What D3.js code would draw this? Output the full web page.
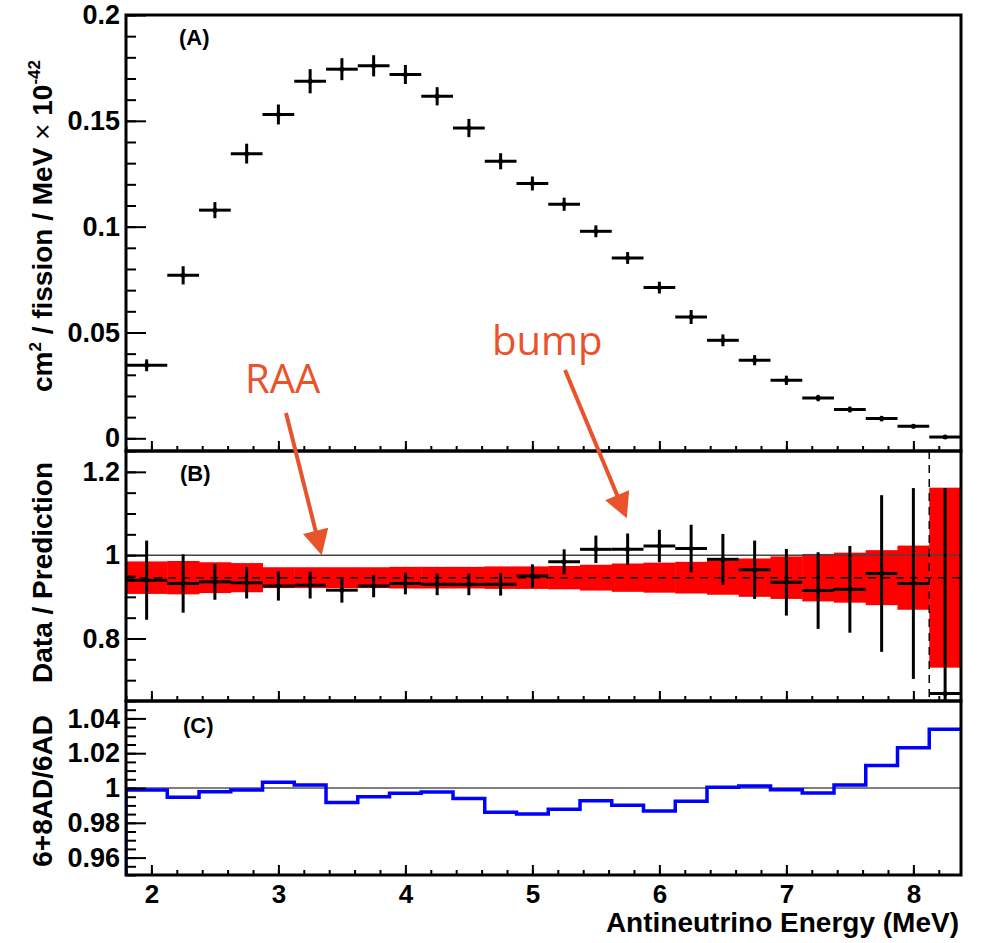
<!DOCTYPE html>
<html>
<head>
<meta charset="utf-8">
<script src="https://cdn.jsdelivr.net/npm/d3@7"></script>
<style>
  body { margin: 0; background: #fff; }
  svg { display: block; }
</style>
</head>
<body>
<div id="chart"></div>
<script>
// Bin edges (MeV) and centres
const binEdges = [1.8, 2.125, 2.375, 2.625, 2.875, 3.125, 3.375, 3.625, 3.875, 4.125, 4.375, 4.625, 4.875,
  5.125, 5.375, 5.625, 5.875, 6.125, 6.375, 6.625, 6.875, 7.125, 7.375, 7.625, 7.875, 8.125, 8.375];
const binCenters = [1.9625, 2.25, 2.5, 2.75, 3.0, 3.25, 3.5, 3.75, 4.0, 4.25, 4.5, 4.75, 5.0,
  5.25, 5.5, 5.75, 6.0, 6.25, 6.5, 6.75, 7.0, 7.25, 7.5, 7.75, 8.0, 8.25];

// (A) unfolded spectrum, cm2/fission/MeV x 1e-42
const spectrum = [0.0345, 0.077, 0.1078, 0.1345, 0.153, 0.1687, 0.1744, 0.176, 0.1719, 0.1616, 0.1466, 0.1309, 0.1204,
  0.1106, 0.0978, 0.0852, 0.0712, 0.0573, 0.0463, 0.0369, 0.0274, 0.019, 0.0136, 0.0093, 0.0057, 0.0006];
const spectrumErr = [0.0028, 0.0043, 0.0038, 0.0047, 0.0047, 0.0057, 0.0052, 0.005, 0.0045, 0.0043, 0.0043, 0.0038, 0.0033,
  0.0031, 0.0028, 0.0028, 0.0028, 0.0033, 0.0028, 0.0024, 0.0022, 0.0015, 0.0014, 0.0013, 0.001, 0.0009];

// (B) data / prediction
const ratio = [0.940, 0.932, 0.936, 0.934, 0.926, 0.928, 0.916, 0.926, 0.932, 0.930, 0.930, 0.930, 0.950,
  0.984, 1.014, 1.014, 1.022, 1.016, 0.990, 0.965, 0.935, 0.915, 0.918, 0.956, 0.932, 0.668];
const ratioErr = [0.095, 0.070, 0.043, 0.038, 0.035, 0.032, 0.030, 0.027, 0.026, 0.026, 0.026, 0.027, 0.028,
  0.030, 0.033, 0.038, 0.039, 0.057, 0.061, 0.070, 0.080, 0.092, 0.104, 0.188, 0.229, 0.493];
const bandCenter = 0.946;
const bandHalf = [0.039, 0.040, 0.037, 0.035, 0.025, 0.025, 0.025, 0.025, 0.026, 0.026, 0.026, 0.027, 0.027,
  0.028, 0.031, 0.034, 0.036, 0.038, 0.041, 0.046, 0.051, 0.057, 0.060, 0.066, 0.077, 0.216];
const cutEnergy = 8.125;

// (C) 6+8AD / 6AD
const ratio8AD = [0.9989, 0.9947, 0.9979, 0.9989, 1.0033, 1.0017, 0.9916, 0.995, 0.997, 0.9977, 0.9939, 0.986, 0.985,
  0.9878, 0.9927, 0.9901, 0.9868, 0.9924, 1.0004, 1.0011, 0.999, 0.9971, 1.0017, 1.013, 1.0232, 1.0337];

// Annotations (text in panel A units, arrow from A to B units)
const annotations = [
  { label: "RAA", tx: 2.737, ty: 0.0214, x0: 3.06, y0: 0.012, x1: 3.341, y1: 1.0 },
  { label: "bump", tx: 4.682, ty: 0.0394, x0: 5.257, y0: 0.0323, x1: 5.743, y1: 1.0885 }
];

const W = 987, H = 943;
const left = 126, right = 961;
const panels = {
  A: { top: 15, bottom: 451, domain: [-0.006, 0.2] },
  B: { top: 451, bottom: 701, domain: [0.65, 1.25] },
  C: { top: 701, bottom: 875, domain: [0.95, 1.05] }
};
const FONT = "'Liberation Sans', Arial, Helvetica, sans-serif";
const orange = "#e9532b";

const svg = d3.select("#chart").append("svg")
  .attr("width", W).attr("height", H)
  .style("font-family", FONT);

const x = d3.scaleLinear().domain([1.8, 8.375]).range([left, right]);
const yA = d3.scaleLinear().domain(panels.A.domain).range([panels.A.bottom, panels.A.top]);
const yB = d3.scaleLinear().domain(panels.B.domain).range([panels.B.bottom, panels.B.top]);
const yC = d3.scaleLinear().domain(panels.C.domain).range([panels.C.bottom, panels.C.top]);

const bins = binCenters.map((c, i) => ({
  c, lo: binEdges[i], hi: binEdges[i + 1],
  s: spectrum[i], se: spectrumErr[i],
  r: ratio[i], re: ratioErr[i], bh: bandHalf[i], c8: ratio8AD[i]
}));

// clip paths
const defs = svg.append("defs");
Object.entries(panels).forEach(([k, p]) => {
  defs.append("clipPath").attr("id", "clip" + k)
    .append("rect").attr("x", left).attr("y", p.top)
    .attr("width", right - left).attr("height", p.bottom - p.top);
});

function range(a, b, step) {
  const out = [];
  for (let v = a; v <= b + step / 1000; v += step) out.push(+v.toFixed(4));
  return out;
}

function yAxes(y, major, minor, fmt) {
  const g = svg.append("g").attr("transform", `translate(${left},0)`);
  g.append("g").call(d3.axisLeft(y).tickValues(minor).tickSize(-10).tickFormat(""));
  g.append("g").call(d3.axisLeft(y).tickValues(major).tickSize(-20).tickPadding(6).tickFormat(fmt))
    .selectAll("text").attr("font-size", 27).attr("font-weight", "bold").attr("fill", "#000")
    .attr("font-family", FONT);
  g.selectAll(".domain").remove();
  g.selectAll("line").attr("stroke", "#000").attr("stroke-width", 2);
}

function xAxis(p, labels) {
  const g = svg.append("g").attr("transform", `translate(0,${p.bottom})`);
  g.append("g").call(d3.axisBottom(x).tickValues(range(1.8, 8.2, 0.2)).tickSize(-5).tickFormat(""));
  const maj = g.append("g").call(d3.axisBottom(x).tickValues([2, 3, 4, 5, 6, 7, 8]).tickSize(-10)
    .tickPadding(10).tickFormat(labels ? d3.format("d") : ""));
  maj.selectAll("text").attr("font-size", 26).attr("font-weight", "bold").attr("fill", "#000")
    .attr("font-family", FONT);
  g.selectAll(".domain").remove();
  g.selectAll("line").attr("stroke", "#000").attr("stroke-width", 2);
}

// ---------- Panel B band & lines (drawn first so frames sit on top)
const gB = svg.append("g").attr("clip-path", "url(#clipB)");
gB.selectAll("rect.band").data(bins).enter().append("rect")
  .attr("class", "band")
  .attr("x", d => x(d.lo)).attr("width", d => x(d.hi) - x(d.lo) + 0.5)
  .attr("y", d => yB(bandCenter + d.bh))
  .attr("height", d => yB(bandCenter - d.bh) - yB(bandCenter + d.bh))
  .attr("fill", "#ff0000");
gB.append("line").attr("x1", left).attr("x2", right).attr("y1", yB(1)).attr("y2", yB(1))
  .attr("stroke", "#444").attr("stroke-width", 1.5);
gB.append("line").attr("x1", left).attr("x2", right).attr("y1", yB(bandCenter)).attr("y2", yB(bandCenter))
  .attr("stroke", "#000").attr("stroke-width", 1.5).attr("stroke-dasharray", "8,6");
gB.append("line").attr("x1", x(cutEnergy)).attr("x2", x(cutEnergy))
  .attr("y1", panels.B.top).attr("y2", panels.B.bottom)
  .attr("stroke", "#000").attr("stroke-width", 1.5).attr("stroke-dasharray", "8,6");

function crosses(g, y, val, err, vw, hw, r) {
  g.selectAll(null).data(bins).enter().append("line")
    .attr("x1", d => x(d.c)).attr("x2", d => x(d.c))
    .attr("y1", d => y(d[val] - d[err])).attr("y2", d => y(d[val] + d[err]))
    .attr("stroke", "#000").attr("stroke-width", vw);
  g.selectAll(null).data(bins).enter().append("line")
    .attr("x1", d => x(d.lo)).attr("x2", d => x(d.hi))
    .attr("y1", d => y(d[val])).attr("y2", d => y(d[val]))
    .attr("stroke", "#000").attr("stroke-width", hw);
  g.selectAll(null).data(bins).enter().append("circle")
    .attr("cx", d => x(d.c)).attr("cy", d => y(d[val])).attr("r", r).attr("fill", "#000");
}
crosses(gB, yB, "r", "re", 3, 3, 2.5);

// ---------- Panel A
const gA = svg.append("g").attr("clip-path", "url(#clipA)");
crosses(gA, yA, "s", "se", 3, 3, 2.5);

// ---------- Panel C
const gC = svg.append("g").attr("clip-path", "url(#clipC)");
gC.append("line").attr("x1", left).attr("x2", right).attr("y1", yC(1)).attr("y2", yC(1))
  .attr("stroke", "#555").attr("stroke-width", 1.5);
const stepPts = [[binEdges[0], panels.C.domain[0]]];
bins.forEach(d => { stepPts.push([d.lo, d.c8]); stepPts.push([d.hi, d.c8]); });
gC.append("path")
  .attr("d", d3.line().x(d => x(d[0])).y(d => yC(d[1]))(stepPts))
  .attr("fill", "none").attr("stroke", "#0000ff").attr("stroke-width", 3.5);

// ---------- Axes
yAxes(yA, range(0, 0.2, 0.05), range(0, 0.2, 0.01), d => d === 0 ? "0" : d3.format("")(d));
yAxes(yB, [0.8, 1.0, 1.2], range(0.7, 1.25, 0.05), d => d === 1 ? "1" : d3.format(".1f")(d));
yAxes(yC, [0.96, 0.98, 1.0, 1.02, 1.04], range(0.95, 1.05, 0.005), d => d === 1 ? "1" : d3.format(".2f")(d));
xAxis(panels.A, false);
xAxis(panels.B, false);
xAxis(panels.C, true);

// frames
Object.values(panels).forEach(p => {
  svg.append("rect").attr("x", left).attr("y", p.top)
    .attr("width", right - left).attr("height", p.bottom - p.top)
    .attr("fill", "none").attr("stroke", "#000").attr("stroke-width", 3);
});

// panel labels
[["(A)", 179, 45], ["(B)", 180, 481], ["(C)", 183, 733]].forEach(([t, px, py]) => {
  svg.append("text").attr("x", px).attr("y", py).attr("font-size", 22)
    .attr("font-weight", "bold").text(t);
});

// axis titles
const tA = svg.append("text").attr("transform", "translate(52,60) rotate(-90)")
  .attr("text-anchor", "end").attr("font-size", 28).attr("font-weight", "bold");
tA.append("tspan").text("cm");
tA.append("tspan").attr("font-size", 17).attr("dy", -11).text("2");
tA.append("tspan").attr("dy", 11).text(" / fission / MeV  ");
tA.append("tspan").attr("font-weight", "normal").text("\u00d7");
tA.append("tspan").text(" 10");
tA.append("tspan").attr("font-size", 17).attr("dy", -12).text("-42");

svg.append("text").attr("transform", "translate(52,462) rotate(-90)")
  .attr("text-anchor", "end").attr("font-size", 28).attr("font-weight", "bold")
  .text("Data / Prediction");
svg.append("text").attr("transform", "translate(52,715) rotate(-90)")
  .attr("text-anchor", "end").attr("font-size", 28).attr("font-weight", "bold")
  .text("6+8AD/6AD");
svg.append("text").attr("x", 959).attr("y", 932).attr("text-anchor", "end")
  .attr("font-size", 28).attr("font-weight", "bold")
  .text("Antineutrino Energy (MeV)");

// annotations
annotations.forEach(a => {
  svg.append("text").attr("x", x(a.tx)).attr("y", yA(a.ty))
    .attr("font-family", "'Open Sans', sans-serif").attr("font-size", 40)
    .attr("fill", orange).text(a.label);
  const sx = x(a.x0), sy = yA(a.y0), ex = x(a.x1), ey = yB(a.y1);
  const len = Math.hypot(ex - sx, ey - sy);
  const ux = (ex - sx) / len, uy = (ey - sy) / len;
  const hl = 25, hw = 13;
  const bx = ex - ux * hl, by = ey - uy * hl;
  svg.append("line").attr("x1", sx).attr("y1", sy).attr("x2", bx + ux * 2).attr("y2", by + uy * 2)
    .attr("stroke", orange).attr("stroke-width", 4);
  svg.append("path")
    .attr("d", `M${ex},${ey}L${bx - uy * hw},${by + ux * hw}L${bx + uy * hw},${by - ux * hw}Z`)
    .attr("fill", orange);
});
</script>
</body>
</html>
